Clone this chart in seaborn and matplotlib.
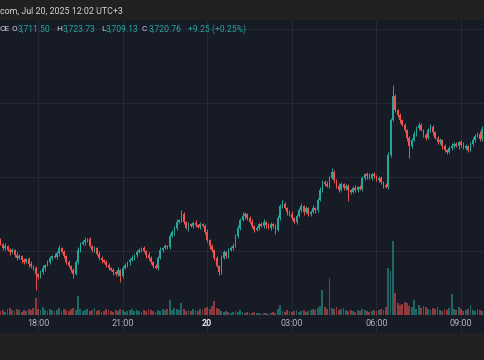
import numpy as np
import pandas as pd
import matplotlib
matplotlib.use("Agg")
import matplotlib.pyplot as plt
import seaborn as sns

# 5 minute candles, 19 Jul 2025 16:40 -> 20 Jul 09:45 (UTC+3)
start_time = "2025-07-19 16:40"
first_open = 3610

closes = [
    3606, 3602, 3604, 3600, 3598, 3600, 3595, 3592, 3594, 3590,
    3588, 3591, 3586, 3584, 3582, 3576, 3573, 3578, 3582, 3585,
    3588, 3592, 3594, 3593, 3597, 3602, 3598, 3594, 3588, 3584,
    3580, 3576, 3588, 3600, 3606, 3608, 3610, 3611, 3604, 3600,
    3602, 3596, 3592, 3590, 3588, 3585, 3582, 3580, 3578, 3576,
    3580, 3574, 3582, 3585, 3588, 3590, 3592, 3595, 3598, 3600,
    3602, 3599, 3595, 3592, 3588, 3584, 3582, 3592, 3600, 3602,
    3604, 3603, 3614, 3618, 3622, 3628, 3630, 3636, 3628, 3622,
    3626, 3624, 3627, 3625, 3623, 3626, 3624, 3618, 3610, 3604,
    3600, 3592, 3584, 3578, 3592, 3598, 3594, 3600, 3602, 3604,
    3614, 3622, 3630, 3634, 3636, 3632, 3628, 3624, 3620, 3622,
    3626, 3624, 3628, 3625, 3622, 3626, 3624, 3620, 3632, 3644,
    3646, 3642, 3638, 3636, 3632, 3628, 3634, 3640, 3644, 3638,
    3642, 3636, 3638, 3642, 3640, 3650, 3660, 3668, 3666, 3664,
    3672, 3678, 3670, 3664, 3660, 3666, 3662, 3664, 3660, 3658,
    3662, 3660, 3663, 3661, 3672, 3676, 3674, 3672, 3676, 3674,
    3670, 3672, 3668, 3665, 3663, 3695, 3730, 3754, 3740, 3735,
    3730, 3725, 3720, 3712, 3704, 3710, 3716, 3722, 3725, 3720,
    3715, 3712, 3720, 3723, 3718, 3712, 3708, 3710, 3704, 3700,
    3698, 3702, 3704, 3706, 3704, 3708, 3705, 3702, 3704, 3700,
    3706, 3710, 3714, 3716, 3711.50, 3720.76,
]

# wick lengths above / below the body
upper_wick = [
    2, 1, 3, 1, 2, 2, 1, 3, 2, 1,
    2, 1, 2, 3, 1, 2, 1, 2, 3, 1,
    2, 2, 1, 3, 2, 3, 1, 2, 1, 2,
    1, 2, 2, 3, 2, 2, 3, 1, 2, 1,
    2, 1, 3, 2, 1, 2, 2, 1, 2, 1,
    3, 1, 2, 2, 1, 2, 3, 1, 2, 2,
    1, 2, 1, 3, 2, 1, 2, 2, 3, 1,
    2, 1, 3, 2, 2, 3, 1, 4, 2, 1,
    2, 1, 2, 3, 1, 2, 1, 2, 3, 1,
    2, 1, 2, 1, 3, 2, 1, 2, 2, 3,
    2, 3, 2, 4, 2, 1, 2, 3, 1, 2,
    1, 2, 3, 1, 2, 2, 1, 2, 3, 2,
    4, 2, 1, 2, 3, 1, 2, 2, 3, 1,
    2, 1, 2, 3, 1, 2, 3, 2, 2, 3,
    2, 4, 2, 1, 3, 2, 1, 2, 2, 1,
    2, 3, 1, 2, 2, 1, 2, 3, 1, 2,
    1, 2, 2, 1, 2, 3, 2, 11, 2, 1,
    2, 1, 2, 1, 2, 2, 3, 2, 3, 2,
    1, 2, 2, 3, 2, 1, 2, 2, 1, 2,
    1, 2, 3, 2, 2, 1, 2, 3, 2, 1,
    2, 3, 2, 2, 3, 2.97,
]
lower_wick = [
    1, 2, 2, 1, 3, 1, 2, 2, 1, 3,
    2, 1, 3, 2, 2, 16, 2, 1, 2, 3,
    1, 2, 2, 1, 2, 3, 1, 2, 2, 1,
    2, 4, 1, 2, 2, 1, 3, 2, 1, 2,
    2, 1, 2, 3, 1, 2, 2, 1, 3, 2,
    2, 6, 2, 1, 2, 3, 1, 2, 2, 1,
    2, 1, 3, 2, 2, 2, 1, 2, 1, 2,
    1, 2, 2, 1, 3, 2, 1, 2, 2, 1,
    3, 1, 2, 2, 1, 2, 1, 2, 2, 3,
    2, 2, 1, 3, 2, 1, 2, 2, 1, 2,
    1, 2, 2, 1, 3, 2, 1, 2, 2, 1,
    2, 1, 2, 3, 1, 2, 2, 4, 1, 2,
    2, 1, 3, 2, 2, 1, 2, 1, 2, 3,
    1, 2, 2, 1, 3, 2, 1, 2, 2, 1,
    2, 1, 3, 2, 2, 1, 2, 2, 11, 2,
    1, 2, 2, 1, 2, 2, 3, 1, 2, 2,
    1, 2, 2, 3, 1, 2, 2, 1, 2, 2,
    3, 1, 2, 3, 12, 2, 1, 2, 2, 1,
    2, 2, 1, 2, 3, 1, 2, 2, 3, 2,
    2, 1, 2, 2, 1, 3, 2, 1, 2, 2,
    1, 2, 2, 1, 2, 2.37,
]

volume = [
    4, 5, 3, 6, 7, 5, 4, 6, 5, 3,
    5, 4, 6, 5, 7, 17, 6, 5, 8, 5,
    4, 6, 5, 4, 5, 7, 4, 6, 5, 4,
    6, 7, 5, 19, 6, 4, 5, 6, 4, 5,
    7, 4, 5, 3, 4, 6, 5, 4, 3, 5,
    4, 6, 5, 3, 4, 5, 6, 4, 5, 4,
    3, 5, 4, 6, 5, 4, 3, 5, 4, 6,
    5, 6, 15, 5, 7, 6, 5, 12, 6, 4,
    5, 4, 6, 5, 4, 6, 5, 7, 8, 6,
    9, 14, 7, 6, 4, 3, 4, 3, 2, 3,
    4, 3, 5, 3, 2, 3, 2, 2, 3, 2,
    2, 1, 2, 2, 1, 2, 3, 2, 6, 10,
    4, 3, 5, 4, 3, 4, 5, 3, 4, 5,
    3, 4, 5, 6, 5, 7, 9, 25, 8, 6,
    37, 7, 6, 8, 5, 6, 7, 5, 4, 5,
    4, 3, 5, 4, 6, 5, 4, 3, 4, 5,
    4, 5, 6, 5, 8, 47, 44, 74, 22, 12,
    10, 11, 13, 12, 9, 8, 15, 6, 10, 7,
    9, 8, 6, 5, 7, 6, 8, 5, 4, 6,
    5, 7, 21, 6, 5, 8, 6, 4, 5, 6,
    10, 5, 4, 6, 5, 4,
]

tick_times = ["2025-07-19 18:00", "2025-07-19 21:00", "2025-07-20 00:00",
              "2025-07-20 03:00", "2025-07-20 06:00", "2025-07-20 09:00"]
tick_labels = ["18:00", "21:00", "20", "03:00", "06:00", "09:00"]
grid_prices = [3599, 3673, 3747, 3821]

title_text = "com, Jul 20, 2025 12:02 UTC+3"
legend_labels = ["CE", "O", "H", "L", "C", ""]
legend_values = ["", "3,711.50", "3,723.73", "3,709.13", "3,720.76", "+9.25 (+0.25%)"]

BAND = "#212121"
PANEL = "#171b26"
GRID = "#252a36"
UP = "#26a69a"
DOWN = "#ef5350"
TXT = "#d1d4dc"

# ---- data frame
times = pd.date_range(start_time, periods=len(closes), freq="5min")
df = pd.DataFrame({"time": times, "close": closes, "volume": volume})
df["open"] = [first_open] + closes[:-1]
body_top = df[["open", "close"]].max(axis=1)
body_bot = df[["open", "close"]].min(axis=1)
df["high"] = body_top + np.array(upper_wick)
df["low"] = body_bot - np.array(lower_wick)
df["idx"] = np.arange(len(df))
df["dir"] = np.where(df["close"] >= df["open"], "up", "down")
colors = df["dir"].map({"up": UP, "down": DOWN})
tick_idx = [times.get_loc(pd.Timestamp(t)) for t in tick_times]

# ---- plot
sns.set_theme(style="dark", rc={
    "axes.facecolor": PANEL, "figure.facecolor": BAND,
    "axes.grid": True, "grid.color": GRID, "grid.linewidth": 0.7,
})
plt.rcParams["font.family"] = ["Roboto", "DejaVu Sans"]

fig = plt.figure(figsize=(4.85, 3.6), dpi=100)
ax = fig.add_axes([0, 27 / 360, 1, 313 / 360])

ax.vlines(df["idx"], df["low"], df["high"], colors=colors, linewidth=0.7, zorder=3)
ax.bar(df["idx"], np.maximum(body_top - body_bot, 0.8), bottom=body_bot,
       width=0.72, color=colors, linewidth=0, zorder=3)

axv = ax.twinx()
sns.barplot(data=df, x="idx", y="volume", hue="dir", palette={"up": UP, "down": DOWN},
            native_scale=True, dodge=False, width=0.78, saturation=1, alpha=0.55,
            errorbar=None, legend=False, linewidth=0, ax=axv)
axv.set_ylim(-18, 295)
axv.set_axis_off()

ax.set_xlim(-0.2, 206.2)
ax.set_ylim(3517, 3830)
ax.set_yticks(grid_prices)
ax.tick_params(axis="y", left=False, labelleft=False)
ax.set_xticks(tick_idx, tick_labels)
ax.tick_params(axis="x", length=0, pad=-10, labelsize=6.5, labelcolor="#b2b5be")
for lbl in ax.get_xticklabels():
    if lbl.get_text() == "20":
        lbl.set_fontweight("bold")
        lbl.set_color("#e8e8e8")
ax.set_xlabel("")
ax.set_ylabel("")
for s in ax.spines.values():
    s.set_visible(False)

# header and OHLC legend
fig.text(0.0, 1 - 11 / 360, title_text, color=TXT, fontsize=6.4, va="center", ha="left")
label_x = [-1, 12, 56, 101, 142, 188]
value_x = [0, 18, 63, 106, 149, 188]
for lab, val, lx, vx in zip(legend_labels, legend_values, label_x, value_x):
    if lab:
        fig.text(lx / 485, 1 - 29 / 360, lab, color=TXT, fontsize=6.0, va="center", ha="left")
    if val:
        fig.text(vx / 485, 1 - 29 / 360, val, color=UP, fontsize=6.2, va="center", ha="left")

fig.savefig("out.png", dpi=100, facecolor=BAND)
